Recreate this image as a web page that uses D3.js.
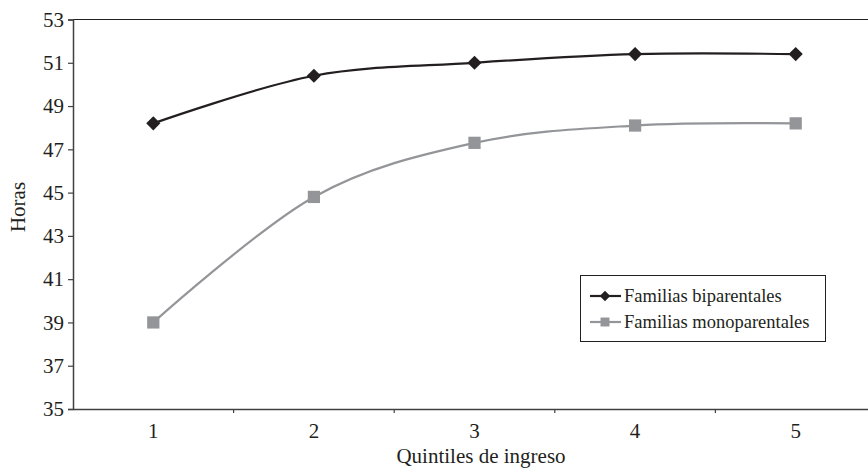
<!DOCTYPE html>
<html lang="es">
<head>
  <meta charset="UTF-8">
  <title>Horas por quintil de ingreso</title>
  <script src="https://d3js.org/d3.v7.min.js"></script>
  <style>
    body { margin: 0; background: #fff; }
    svg { display: block; font-family: "Liberation Serif", "Times New Roman", serif; }
  </style>
</head>
<body>
  <script>
    // data
    const quintiles = [1, 2, 3, 4, 5];
    const biparentales = [48.2, 50.4, 51.0, 51.4, 51.4];
    const monoparentales = [39.0, 44.8, 47.3, 48.1, 48.2];
    const yTicks = [35, 37, 39, 41, 43, 45, 47, 49, 51, 53];

    const W = 868, H = 469;
    const margin = { top: 19.5, left: 73, bottom: 60 };
    const band = 160.6;

    const svg = d3.select("body").append("svg")
        .attr("width", W)
        .attr("height", H);

    const x = d3.scaleBand()
        .domain(quintiles)
        .range([margin.left, margin.left + band * quintiles.length]);

    const y = d3.scaleLinear()
        .domain([35, 53])
        .range([H - margin.bottom, margin.top]);

    const axisColor = "#404040";
    const textColor = "#231f20";

    // top frame line
    svg.append("line")
        .attr("x1", margin.left).attr("x2", W)
        .attr("y1", y(53)).attr("y2", y(53))
        .attr("stroke", textColor).attr("stroke-width", 1);

    // y axis
    const yAxis = svg.append("g")
        .attr("transform", `translate(${margin.left},0)`)
        .call(d3.axisLeft(y).tickValues(yTicks).tickSize(5).tickPadding(4));
    yAxis.select(".domain").attr("stroke", axisColor).attr("stroke-width", 1.5);
    yAxis.selectAll(".tick line").attr("stroke", axisColor).attr("stroke-width", 1.2);
    yAxis.selectAll("text")
        .attr("font-family", "Liberation Serif, serif")
        .attr("font-size", 21).attr("fill", textColor);

    // x axis
    const xAxis = svg.append("g")
        .attr("transform", `translate(0,${y(35)})`)
        .call(d3.axisBottom(x).tickSize(0).tickPadding(14));
    xAxis.select(".domain").attr("stroke", axisColor).attr("stroke-width", 1.5);
    xAxis.selectAll("text")
        .attr("font-family", "Liberation Serif, serif")
        .attr("font-size", 21).attr("fill", textColor);

    // tick marks between categories
    svg.append("g").selectAll("line")
        .data(quintiles.slice(1))
        .enter().append("line")
        .attr("x1", d => x(d)).attr("x2", d => x(d))
        .attr("y1", y(35)).attr("y2", y(35) + 4)
        .attr("stroke", axisColor).attr("stroke-width", 1.2);

    // axis titles
    svg.append("text")
        .attr("transform", "translate(25,207) rotate(-90)")
        .attr("text-anchor", "middle")
        .attr("font-size", 21).attr("fill", textColor)
        .text("Horas");

    svg.append("text")
        .attr("x", 481).attr("y", 463)
        .attr("text-anchor", "middle")
        .attr("font-size", 21).attr("fill", textColor)
        .text("Quintiles de ingreso");

    const cx = d => x(d) + x.bandwidth() / 2;

    const line = d3.line()
        .x(d => cx(d.q))
        .y(d => y(d.v))
        .curve(d3.curveCatmullRom.alpha(0));

    const series = [
      { name: "Familias biparentales", values: biparentales, color: textColor, marker: "diamond" },
      { name: "Familias monoparentales", values: monoparentales, color: "#939598", marker: "square" }
    ];

    const markerPath = (s, size) => d3.symbol().type(d3.symbolSquare).size(size)();
    const markerRot = s => s.marker === "diamond" ? " rotate(45)" : "";

    series.forEach(s => {
      const pts = quintiles.map((q, i) => ({ q, v: s.values[i] }));
      svg.append("path")
          .datum(pts)
          .attr("d", line)
          .attr("fill", "none")
          .attr("stroke", s.color)
          .attr("stroke-width", 2.2);

      svg.append("g").selectAll("path")
          .data(pts)
          .enter().append("path")
          .attr("transform", d => `translate(${cx(d.q)},${y(d.v)})` + markerRot(s))
          .attr("d", markerPath(s, s.marker === "diamond" ? 100 : 150))
          .attr("fill", s.color);
    });

    // legend
    const legend = svg.append("g");
    legend.append("rect")
        .attr("x", 580.5).attr("y", 275.5)
        .attr("width", 245).attr("height", 66)
        .attr("fill", "#fff")
        .attr("stroke", textColor).attr("stroke-width", 1);

    series.forEach((s, i) => {
      const ly = 296 + i * 26;
      legend.append("line")
          .attr("x1", 590).attr("x2", 621)
          .attr("y1", ly).attr("y2", ly)
          .attr("stroke", s.color).attr("stroke-width", 2.2);
      legend.append("path")
          .attr("transform", `translate(605,${ly})` + markerRot(s))
          .attr("d", markerPath(s, s.marker === "diamond" ? 55 : 80))
          .attr("fill", s.color);
      legend.append("text")
          .attr("x", 624).attr("y", ly + 6)
          .attr("font-size", 18.5).attr("fill", textColor)
          .text(s.name);
    });
  </script>
</body>
</html>
